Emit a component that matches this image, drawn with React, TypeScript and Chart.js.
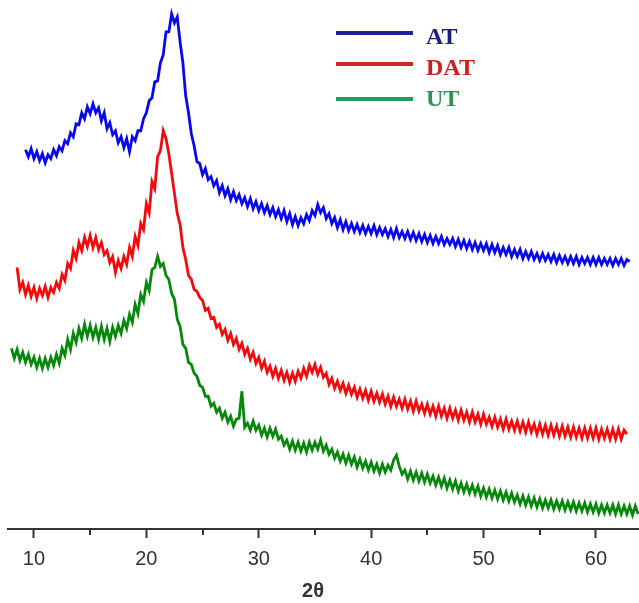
import React, { useEffect, useRef } from "react";
import { Chart, registerables } from "chart.js";

Chart.register(...registerables);

// 2θ grid: each series starts at its own angle, sampled every 0.25°
const STEP = 0.25;
const AT_START = 9.25;
const DAT_START = 8.5;
const UT_START = 8.0;

const SERIES_NAMES = ["AT", "DAT", "UT"];
const LINE_COLORS = ["#0808ee", "#f40a0a", "#06880a"];
const LEGEND_LINE_COLORS = ["#1f1f9f", "#c82828", "#2a9a5c"];
const LEGEND_TEXT_COLORS = ["#1c1c8a", "#cc1f1f", "#2a9450"];

const X_TICKS = [10, 20, 30, 40, 50, 60];
const X_MINOR_TICKS = [15, 25, 35, 45, 55];
const X_MIN = 7.69;
const X_MAX = 63.83;

// intensities (arbitrary units, offset stacked)
const AT = [
  380, 373, 381,
  371, 378, 369, 376,
  367, 375, 371, 380,
  374, 383, 379, 389,
  386, 397, 393, 406,
  405, 417, 411, 423,
  416, 426, 417, 422,
  409, 417, 401, 407,
  395, 399, 387, 393,
  382, 391, 378, 393,
  389, 399, 399, 411,
  417, 429, 432, 448,
  449, 467, 475, 498,
  498, 516, 507, 513,
  488, 467, 434, 417,
  396, 384, 368, 366,
  355, 361, 350, 353,
  344, 349, 337, 344,
  334, 341, 330, 338,
  329, 335, 326, 332,
  323, 331, 321, 328,
  319, 326, 317, 324,
  315, 322, 313, 320,
  311, 319, 308, 316,
  305, 313, 304, 312,
  306, 315, 309, 319,
  314, 325, 317, 322,
  311, 316, 306, 312,
  302, 310, 300, 308,
  299, 306, 298, 305,
  297, 304, 296, 303,
  296, 304, 295, 302,
  295, 301, 293, 300,
  292, 301, 292, 298,
  291, 298, 290, 297,
  289, 296, 288, 295,
  287, 294, 286, 293,
  286, 293, 285, 291,
  285, 291, 283, 290,
  282, 289, 281, 288,
  280, 287, 279, 286,
  279, 286, 277, 285,
  277, 284, 275, 282,
  275, 282, 273, 280,
  273, 280, 271, 278,
  271, 278, 270, 276,
  269, 276, 269, 275,
  268, 275, 267, 274,
  267, 273, 266, 273,
  266, 273, 265, 272,
  266, 272, 265, 272,
  265, 272, 265, 271,
  265, 271, 264, 271,
  265, 271, 264, 270,
  268,
];

const DAT = [
  262, 240,
  247, 235, 244, 233,
  242, 231, 241, 234,
  243, 232, 242, 237,
  247, 241, 255, 249,
  266, 261, 279, 271,
  287, 279, 292, 283,
  294, 282, 292, 280,
  287, 275, 279, 267,
  273, 257, 269, 261,
  273, 265, 282, 273,
  293, 284, 306, 300,
  326, 317, 348, 341,
  373, 379, 399, 391,
  376, 356, 336, 316,
  305, 282, 270, 254,
  250, 240, 238, 232,
  229, 219, 221, 211,
  212, 202, 205, 195,
  200, 189, 196, 185,
  191, 180, 186, 175,
  181, 170, 177, 166,
  172, 161, 168, 157,
  163, 153, 161, 151,
  159, 149, 157, 147,
  156, 148, 158, 151,
  161, 153, 164, 157,
  165, 155, 162, 152,
  156, 145, 151, 141,
  148, 139, 146, 136,
  144, 135, 142, 132,
  140, 131, 139, 129,
  138, 128, 136, 127,
  135, 125, 133, 123,
  132, 123, 130, 121,
  130, 120, 128, 118,
  128, 118, 125, 116,
  125, 115, 123, 113,
  123, 113, 121, 111,
  121, 111, 119, 109,
  119, 109, 117, 107,
  117, 107, 115, 105,
  115, 105, 112, 103,
  112, 102, 110, 100,
  110, 100, 108, 99,
  108, 98, 107, 97,
  107, 97, 105, 95,
  105, 95, 104, 94,
  104, 94, 103, 93,
  103, 93, 102, 92,
  102, 92, 101, 91,
  101, 91, 101, 91,
  101, 90, 100, 91,
  100, 90, 100, 90,
  100, 90, 99, 95,
];

const UT = [
  181, 171, 180, 169,
  177, 167, 175, 165,
  172, 162, 171, 161,
  171, 162, 172, 164,
  175, 166, 181, 174,
  190, 180, 196, 187,
  201, 191, 205, 193,
  204, 192, 202, 190,
  203, 190, 201, 188,
  202, 193, 204, 196,
  209, 201, 215, 207,
  225, 216, 235, 228,
  247, 239, 260, 262,
  273, 263, 266, 254,
  250, 236, 230, 210,
  203, 185, 181, 167,
  165, 156, 153, 144,
  142, 133, 133, 123,
  126, 117, 121, 111,
  117, 107, 113, 103,
  110, 111, 138, 102,
  106, 99, 108, 99,
  104, 94, 101, 92,
  101, 93, 100, 90,
  93, 84, 89, 80,
  88, 79, 87, 78,
  86, 77, 87, 79,
  87, 80, 89, 78,
  84, 75, 80, 71,
  77, 68, 75, 66,
  74, 65, 72, 62,
  70, 61, 68, 59,
  67, 58, 65, 56,
  65, 57, 64, 59,
  69, 74, 63, 55,
  59, 50, 58, 49,
  57, 48, 56, 47,
  55, 46, 53, 44,
  52, 43, 51, 41,
  49, 40, 48, 38,
  46, 37, 45, 36,
  44, 35, 43, 33,
  41, 32, 40, 31,
  39, 30, 38, 29,
  37, 28, 36, 27,
  34, 25, 33, 24,
  32, 23, 31, 22,
  30, 21, 29, 21,
  29, 20, 28, 20,
  28, 19, 27, 19,
  27, 18, 26, 18,
  26, 17, 25, 17,
  25, 16, 24, 16,
  24, 16, 24, 15,
  24, 15, 23, 15,
  23, 14, 23, 15,
];

const toPoints = (start: number, values: number[]) =>
  values.map((v, i) => ({ x: start + i * STEP, y: v }));

const overlayPlugin = {
  id: "overlay",
  afterDraw(chart: any) {
    const { ctx } = chart;
    const xs = chart.scales.x;
    const axisY = chart.chartArea.bottom;
    ctx.save();
    // minor ticks
    ctx.strokeStyle = "#333";
    ctx.lineWidth = 2;
    X_MINOR_TICKS.forEach((v) => {
      const px = Math.round(xs.getPixelForValue(v));
      ctx.beginPath();
      ctx.moveTo(px, axisY);
      ctx.lineTo(px, axisY + 6);
      ctx.stroke();
    });
    // axis title
    ctx.fillStyle = "#333";
    ctx.font = "bold 20px Arial, 'Liberation Sans', sans-serif";
    ctx.textAlign = "center";
    ctx.textBaseline = "middle";
    ctx.fillText("2θ", 313, 591);
    // legend
    const lineYs = [33, 64, 99];
    const textYs = [44, 75, 106];
    SERIES_NAMES.forEach((name, i) => {
      ctx.strokeStyle = LEGEND_LINE_COLORS[i];
      ctx.lineWidth = 4;
      ctx.beginPath();
      ctx.moveTo(336, lineYs[i]);
      ctx.lineTo(413, lineYs[i]);
      ctx.stroke();
      ctx.fillStyle = LEGEND_TEXT_COLORS[i];
      ctx.font = "bold 24px 'Liberation Serif', 'Times New Roman', serif";
      ctx.textAlign = "left";
      ctx.textBaseline = "alphabetic";
      ctx.fillText(name, 426, textYs[i]);
    });
    ctx.restore();
  },
};

export default function App() {
  const canvasRef = useRef<HTMLCanvasElement | null>(null);

  useEffect(() => {
    if (!canvasRef.current) return;
    const chart = new Chart(canvasRef.current, {
      type: "line",
      data: {
        datasets: [
          { label: SERIES_NAMES[0], data: toPoints(AT_START, AT), borderColor: LINE_COLORS[0] },
          { label: SERIES_NAMES[1], data: toPoints(DAT_START, DAT), borderColor: LINE_COLORS[1] },
          { label: SERIES_NAMES[2], data: toPoints(UT_START, UT), borderColor: LINE_COLORS[2] },
        ].map((d) => ({
          ...d,
          borderWidth: 2.8,
          borderJoinStyle: "miter" as const,
          pointRadius: 0,
          tension: 0,
          fill: false,
        })),
      },
      options: {
        animation: false,
        responsive: false,
        layout: { padding: { left: 8, right: 0, top: 0, bottom: 0 } },
        plugins: { legend: { display: false }, tooltip: { enabled: false } },
        scales: {
          x: {
            type: "linear",
            min: X_MIN,
            max: X_MAX,
            afterBuildTicks: (scale: any) => {
              scale.ticks = X_TICKS.map((v) => ({ value: v }));
            },
            afterFit: (scale: any) => {
              scale.height = 74;
            },
            grid: {
              display: true,
              drawOnChartArea: false,
              drawTicks: true,
              tickLength: 9,
              tickWidth: 2,
              tickColor: "#333",
            },
            border: { display: true, color: "#333", width: 2 },
            ticks: {
              color: "#333",
              padding: 9,
              maxRotation: 0,
              font: { family: "Arial, 'Liberation Sans', sans-serif", size: 20 },
              callback: (v: any) => String(v),
            },
          },
          y: {
            display: false,
            min: 0,
            max: 530,
          },
        },
      },
      plugins: [overlayPlugin],
    });
    return () => chart.destroy();
  }, []);

  return (
    <div style={{ position: "absolute", left: 0, top: 0, width: 639, height: 603, background: "#fff" }}>
      <canvas ref={canvasRef} width={639} height={603} />
    </div>
  );
}
